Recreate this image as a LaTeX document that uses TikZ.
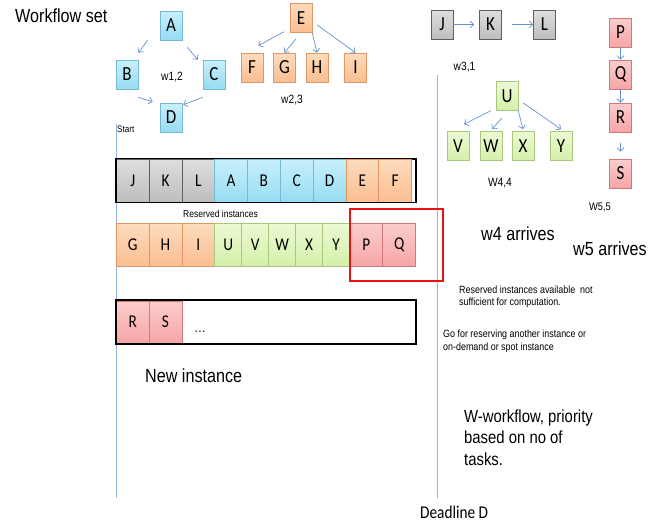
\documentclass[tikz,border=0pt]{standalone}
\usepackage{fontspec}
\setmainfont{Liberation Sans}
\newfontfamily\narrowsans[FakeStretch=0.85]{Liberation Sans}
\newfontfamily\boxfont[FakeStretch=0.85]{Carlito}
\usetikzlibrary{arrows.meta}

% task colours
\definecolor{greyT}{RGB}{222,222,222}
\definecolor{greyB}{RGB}{190,190,190}
\definecolor{greyL}{RGB}{95,95,95}
\definecolor{blueT}{RGB}{200,240,252}
\definecolor{blueB}{RGB}{150,220,242}
\definecolor{blueL}{RGB}{120,185,210}
\definecolor{oranT}{RGB}{253,220,190}
\definecolor{oranB}{RGB}{250,190,145}
\definecolor{oranL}{RGB}{225,150,100}
\definecolor{grenT}{RGB}{236,250,212}
\definecolor{grenB}{RGB}{212,240,170}
\definecolor{grenL}{RGB}{170,200,125}
\definecolor{pinkT}{RGB}{252,205,205}
\definecolor{pinkB}{RGB}{246,165,165}
\definecolor{pinkL}{RGB}{210,120,120}
\definecolor{arrowc}{RGB}{100,145,205}
\definecolor{timeline}{RGB}{150,182,222}
\definecolor{alertred}{RGB}{228,20,20}

\tikzset{
  task/.style={minimum width=22pt, minimum height=29pt, inner sep=0pt, line width=0.6pt,
    font=\boxfont\fontsize{20}{20}\selectfont},
  cell/.style={minimum height=43pt, inner sep=0pt, anchor=west, line width=0.6pt,
    font=\boxfont\fontsize{18}{18}\selectfont},
  wide/.style={minimum width=32.8pt},
  slim/.style={minimum width=27pt},
  tgrey/.style={top color=greyT, bottom color=greyB, draw=greyL},
  tblue/.style={top color=blueT, bottom color=blueB, draw=blueL},
  toran/.style={top color=oranT, bottom color=oranB, draw=oranL},
  tgren/.style={top color=grenT, bottom color=grenB, draw=grenL},
  tpink/.style={top color=pinkT, bottom color=pinkB, draw=pinkL},
  flow/.style={draw=arrowc, line width=0.7pt, -{Straight Barb[length=3.5pt,width=7pt]}},
  lbl/.style={font=\narrowsans\fontsize{12}{12}\selectfont, inner sep=0pt, anchor=base},
  big/.style={font=\narrowsans\fontsize{19}{19}\selectfont, inner sep=0pt, anchor=base west},
  note/.style={font=\narrowsans\fontsize{10.5}{12.5}\selectfont, inner sep=0pt, anchor=base west, align=left},
  barframe/.style={draw=black, line width=1pt, minimum height=43pt, minimum width=299pt, inner sep=0pt, anchor=west},
  timeaxis/.style={draw=timeline, line width=0.8pt},
}

\begin{document}
\begin{tikzpicture}[x=1pt,y=-1pt]
\useasboundingbox (0,0) rectangle (664,522);

% ---- workflow w1: diamond A,B,C,D
\node[task,tblue] (A) at (171,25.5) {A};
\node[task,tblue] (B) at (127,74.5) {B};
\node[task,tblue] (C) at (214,74.5) {C};
\node[task,tblue] (D) at (171,117.5) {D};
\node[lbl] (w1) at (172,80) {w1,2};
\draw[flow] ([xshift=-12pt]A.south west) -- ([yshift=7pt]B.north east);
\draw[flow] ([xshift=5pt,yshift=-7pt]A.south east) -- ([xshift=-5pt]C.north west);
\draw[flow] ([yshift=-8pt]B.south east) -- ([xshift=-7pt,yshift=1pt]D.north west);
\draw[flow] ([yshift=-8pt]C.south west) -- ([xshift=1pt,yshift=-2pt]D.north east);

% ---- workflow w2: E fans out to F,G,H,I
\node[task,toran] (E) at (301,18) {E};
\node[task,toran] (F) at (252,67.5) {F};
\node[task,toran] (G) at (284.5,67.5) {G};
\node[task,toran] (H) at (317,67.5) {H};
\node[task,toran] (I) at (355.5,67.5) {I};
\node[lbl] (w2) at (292,103) {w2,3};
\draw[flow] ([xshift=-6pt,yshift=1pt]E.south west) -- ([xshift=-5pt,yshift=7pt]F.north east);
\draw[flow] ([xshift=-5pt,yshift=-6pt]E.south) -- (G.north);
\draw[flow] (E.south east) -- (H.north);
\draw[flow] ([xshift=5pt,yshift=-7pt]E.east) -- (I.north);

% ---- workflow w3: chain J,K,L
\node[task,tgrey] (J) at (442,24.5) {J};
\node[task,tgrey] (K) at (490.5,24.5) {K};
\node[task,tgrey] (L) at (544.5,24.5) {L};
\node[lbl] (w3) at (464.5,70) {w3,1};
\draw[flow] (J.east) -- ([xshift=-5pt]K.west);
\draw[flow] ([xshift=10pt]K.east) -- (L.west);

% ---- workflow w4: U fans out to V,W,X,Y
\node[task,tgren] (U) at (507,96) {U};
\node[task,tgren] (V) at (458,146) {V};
\node[task,tgren] (W) at (491,146) {W};
\node[task,tgren] (X) at (523,146) {X};
\node[task,tgren] (Y) at (561,146) {Y};
\node[lbl] (w4) at (500,186) {W4,4};
\draw[flow] ([xshift=-5pt]U.south west) -- ([xshift=6pt,yshift=7pt]V.north);
\draw[flow] ([xshift=-5pt,yshift=-7pt]U.south) -- ([xshift=1pt,yshift=2pt]W.north);
\draw[flow] (U.south east) -- ([yshift=2pt]X.north);
\draw[flow] ([xshift=5pt,yshift=-7pt]U.east) -- ([yshift=2pt]Y.north);

% ---- workflow w5: chain P,Q,R,S
\node[task,tpink] (P) at (620.5,32.5) {P};
\node[task,tpink] (Q) at (620.5,74.5) {Q};
\node[task,tpink] (R) at (620.5,117.5) {R};
\node[task,tpink] (S) at (620.5,173.5) {S};
\node[lbl,font=\narrowsans\fontsize{11}{11}\selectfont] (w5) at (600,210) {W5,5};
\draw[flow] (P.south) -- (Q.north);
\draw[flow] (Q.south) -- (R.north);
\draw[flow] ([yshift=-11pt]R.south) -- ([yshift=7pt]S.north);

% ---- time axis: start and deadline
\coordinate (t0top) at (116,124);
\coordinate (t0bot) at (116,498);
\coordinate (tdtop) at (437,75);
\coordinate (tdbot) at (437,498);
\draw[timeaxis] (t0top) -- (t0bot);
\draw[timeaxis] (tdtop) -- (tdbot);
\node[font=\narrowsans\fontsize{9.5}{9.5}\selectfont, inner sep=0pt, anchor=base west] (start) at (117,132) {Start};
\node[font=\boxfont\fontsize{18}{18}\selectfont, inner sep=0pt, anchor=base west] (deadline) at (420,518) {Deadline D};

% ---- reserved instance 1
\node[barframe, fill=white] (bar1) at (116,180.5) {};
\node[cell,wide,tgrey] (c1) at (116,180.5) {J};
\node[cell,wide,tgrey] (c2) at (148.8,180.5) {K};
\node[cell,wide,tgrey] (c3) at (181.6,180.5) {L};
\node[cell,wide,tblue] (c4) at (214.4,180.5) {A};
\node[cell,wide,tblue] (c5) at (247.2,180.5) {B};
\node[cell,wide,tblue] (c6) at (280,180.5) {C};
\node[cell,wide,tblue] (c7) at (312.8,180.5) {D};
\node[cell,wide,toran] (c8) at (345.6,180.5) {E};
\node[cell,wide,toran] (c9) at (378.4,180.5) {F};
\draw[draw=black, line width=1.2pt] (bar1.north west) rectangle (bar1.south east);

\node[font=\narrowsans\fontsize{10}{10}\selectfont, inner sep=0pt, anchor=base west] (resv) at (183,217) {Reserved instances};

% ---- reserved instance 2
\node[cell,wide,toran] (d1) at (116,244.5) {G};
\node[cell,wide,toran] (d2) at (148.8,244.5) {H};
\node[cell,wide,toran] (d3) at (181.6,244.5) {I};
\node[cell,slim,tgren] (d4) at (214.4,244.5) {U};
\node[cell,slim,tgren] (d5) at (241.4,244.5) {V};
\node[cell,slim,tgren] (d6) at (268.4,244.5) {W};
\node[cell,slim,tgren] (d7) at (295.4,244.5) {X};
\node[cell,slim,tgren] (d8) at (322.4,244.5) {Y};
\node[cell,minimum width=33pt,tpink] (d9) at (349.4,244.5) {P};
\node[cell,minimum width=33pt,tpink] (d10) at (382.4,244.5) {Q};

% overflow highlight
\node[draw=alertred, line width=1.5pt, minimum width=93pt, minimum height=72pt, inner sep=0pt, anchor=north west] (overflow) at (349,208) {};

% ---- new instance
\node[barframe, fill=white] (bar3) at (116,322) {};
\node[cell,wide,tpink,minimum height=42pt] (e1) at (116,322) {R};
\node[cell,wide,tpink,minimum height=42pt] (e2) at (148.8,322) {S};
\draw[draw=black, line width=1.2pt] (bar3.north west) rectangle (bar3.south east);
\node[font=\narrowsans\fontsize{14}{14}\selectfont, inner sep=0pt, anchor=base west] (dots) at (194,332) {\dots};

% ---- captions (multi-line nodes are placed by the baseline of their last line)
\node[big] (title) at (15,22) {Workflow set};
\node[big] (newinst) at (145,382) {New instance};
\node[big] (arr4) at (481,240) {w4 arrives};
\node[big] (arr5) at (573,255) {w5 arrives};
\node[note] (insuff) at (459,305.5) {Reserved instances available\ \ not\\sufficient for computation.};
\node[note] (goto) at (443,350) {Go for reserving another instance or\\on-demand or spot instance};
\node[font=\narrowsans\fontsize{17.5}{21.5}\selectfont, inner sep=0pt, anchor=base west, align=left] (prio) at (464,465) {W-workflow, priority\\based on no of\\tasks.};
\end{tikzpicture}
\end{document}
